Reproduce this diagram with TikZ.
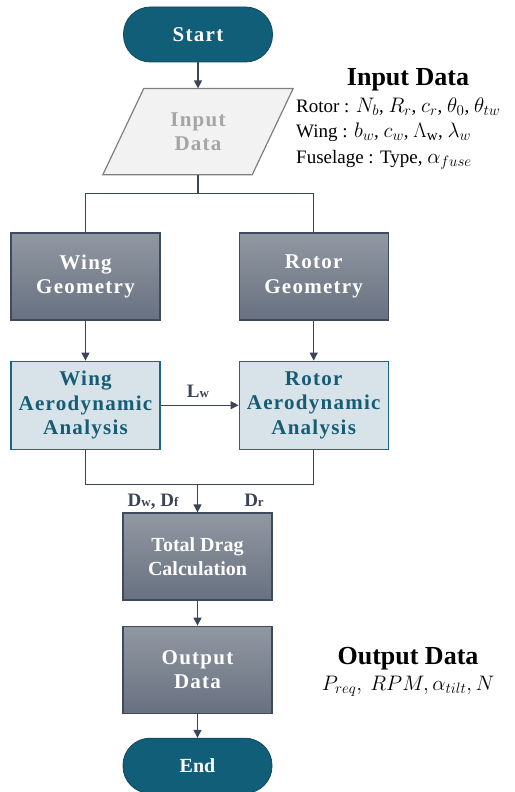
\RequirePackage{fix-cm}
\documentclass[tikz,border=0pt]{standalone}
\usepackage{fontspec}
\setmainfont{Liberation Serif}
\newfontfamily\spacedfont[LetterSpace=6]{Liberation Serif}
\usepackage{amsmath}
\DeclareMathSizes{19}{21}{15}{12}
\usetikzlibrary{arrows.meta,positioning,backgrounds}
\definecolor{startTeal}{RGB}{17,94,120}
\definecolor{tealEdge}{RGB}{12,72,94}
\definecolor{grayTop}{RGB}{145,152,162}
\definecolor{grayBottom}{RGB}{104,113,128}
\definecolor{grayEdge}{RGB}{62,75,92}
\definecolor{aeroFill}{RGB}{215,227,233}
\definecolor{aeroEdge}{RGB}{27,103,130}
\definecolor{aeroText}{RGB}{22,92,117}
\definecolor{inFill}{RGB}{242,242,242}
\definecolor{inEdge}{RGB}{127,127,127}
\definecolor{inText}{RGB}{165,165,165}
\definecolor{lineSlate}{RGB}{58,69,86}

\begin{document}
\begin{tikzpicture}[x=1pt,y=1pt,
    every node/.style={inner sep=0pt},
    terminal/.style={rectangle, rounded corners=27pt, minimum width=149pt,
        minimum height=55pt, fill=startTeal, draw=tealEdge, line width=0.8pt,
        text=white},
    process/.style={rectangle, minimum width=149pt, minimum height=87pt,
        top color=grayTop, bottom color=grayBottom, draw=grayEdge,
        line width=1.2pt, text=white, align=center},
    aero/.style={rectangle, minimum width=149pt, minimum height=88pt,
        fill=aeroFill, draw=aeroEdge, line width=1.2pt, text=aeroText,
        align=center},
    spaced/.style={font={\spacedfont\bfseries\fontsize{21}{24.5}\selectfont}},
    plain/.style={font={\bfseries\fontsize{20}{24.5}\selectfont}},
    line/.style={draw=lineSlate, line width=1.2pt},
    arrow/.style={line, -{Triangle[length=8pt,width=8pt]}},
    flowlabel/.style={text=lineSlate, font={\bfseries\fontsize{19}{22}\selectfont}},
    info/.style={font={\fontsize{19}{25}\selectfont}, anchor=base west},
    title/.style={font={\bfseries\fontsize{26}{30}\selectfont}, anchor=base}
    ]
    \useasboundingbox (0,0) rectangle (514,-792);

    % main column
    \node[terminal, spaced] (start) at (198,-34.5) {Start};
    \node[rectangle, minimum width=149pt, minimum height=86pt, text=inText,
        align=center, spaced, below=26pt of start] (input) {Input\\Data};
    \begin{scope}[on background layer]
        \draw[fill=inFill, draw=inEdge, line width=1.2pt]
            ([xshift=-20.5pt]input.south west) -- ([xshift=20.5pt]input.north west)
            -- ([xshift=20.5pt]input.north east) -- ([xshift=-20.5pt]input.south east)
            -- cycle;
    \end{scope}
    \coordinate[below=19pt of input.south] (split);

    % two branches
    \node[process, spaced] (wgeo) at (85.5,-276.5) {Wing\\Geometry};
    \node[process, spaced, right=78pt of wgeo] (rgeo) {Rotor\\Geometry};
    \node[aero, spaced, below=40pt of wgeo] (waero) {Wing\\Aerodynamic\\Analysis};
    \node[aero, spaced, below=40pt of rgeo] (raero) {Rotor\\Aerodynamic\\Analysis};

    \node[process, plain] (drag) at (197.5,-556.5) {Total Drag\\Calculation};
    \coordinate[above=28pt of drag.north] (merge);
    \node[process, spaced, below=25pt of drag] (output) {Output\\Data};
    \node[terminal, plain, below=24pt of output] (end) {End};

    % connectors
    \draw[arrow] (start) -- (input);
    \draw[line] (input.south) -- (split);
    \draw[line] (wgeo.north) |- (split) -| (rgeo.north);
    \draw[arrow] (wgeo) -- (waero);
    \draw[arrow] (rgeo) -- (raero);
    \draw[arrow] (waero) -- (raero);
    \draw[line] (waero.south) |- (merge) -| (raero.south);
    \draw[arrow] (merge) -- (drag);
    \draw[arrow] (drag) -- (output);
    \draw[arrow] (output) -- (end);

    % flow labels
    \node[flowlabel, anchor=base] (lw) at (198,-397) {L{\fontsize{13}{13}\selectfont w}};
    \node[flowlabel, anchor=base] (dwf) at (153,-506)
        {D{\fontsize{13}{13}\selectfont w}, D{\fontsize{13}{13}\selectfont f}};
    \node[flowlabel, anchor=base] (dr) at (254,-506) {D{\fontsize{13}{13}\selectfont r}};

    % data notes
    \node[title] (inTitle) at (408,-85) {Input Data};
    \node[info] (rotorTxt) at (296,-112) {Rotor : $N_b$, $R_r$, $c_r$, $\theta_0$, $\theta_{tw}$};
    \node[info] (wingTxt) at (296,-137) {Wing : $b_w$, $c_w$, $\Lambda_{\mathrm{w}}$, $\lambda_w$};
    \node[info] (fuseTxt) at (296,-163) {Fuselage : Type, $\alpha_{fuse}$};

    \node[title] (outTitle) at (408,-664) {Output Data};
    \node[info, anchor=base] (outTxt) at (408,-690)
        {$P_{req},\ RPM, \alpha_{tilt}, N$};
\end{tikzpicture}
\end{document}
